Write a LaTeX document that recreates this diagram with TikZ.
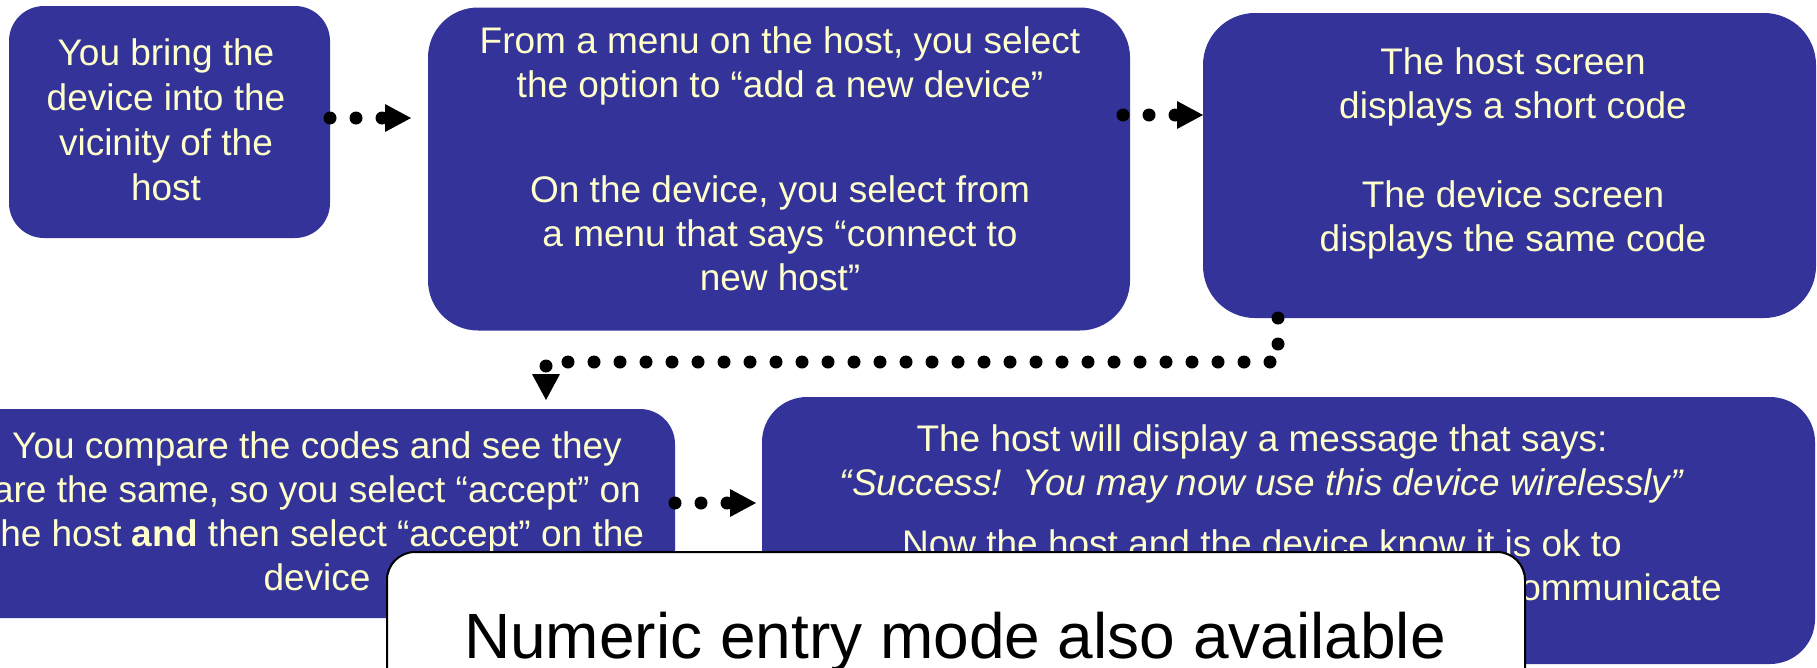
\documentclass[tikz,border=0pt]{standalone}
\usepackage{fontspec}
\setmainfont{Liberation Sans}
\usetikzlibrary{arrows.meta}
\definecolor{boxblue}{HTML}{333399}
\definecolor{cream}{HTML}{FFFFCC}

\tikzset{
  stepbox/.style={fill=boxblue, draw=none, inner sep=0pt, outer sep=0pt},
  steptext/.style={text=cream, anchor=base, inner sep=0pt,
                   font=\fontsize{37}{44}\selectfont},
  conn/.style={line width=13pt, line cap=round, dash pattern=on 0pt off 26pt,
               -{Triangle[length=26pt,width=28pt,line width=0pt]}},
  notebox/.style={draw=black, line width=2pt, fill=white, inner sep=0pt,
                  rounded corners=28pt},
}

\begin{document}
\begin{tikzpicture}[x=1pt,y=-1pt]
\useasboundingbox (0,0) rectangle (1817,667);
\clip (0,0) rectangle (1817,667);

% step boxes
\node[stepbox, rounded corners=35pt, minimum width=321pt, minimum height=232pt] (b1) at (169.5,122) {};
\node[stepbox, rounded corners=50pt, minimum width=702pt, minimum height=323pt] (b2) at (779,169) {};
\node[stepbox, rounded corners=52pt, minimum width=613pt, minimum height=305pt] (b3) at (1509.5,165.5) {};
\node[stepbox, rounded corners=35pt, minimum width=715pt, minimum height=209pt] (b4) at (317.5,513.5) {};
\node[stepbox, rounded corners=45pt, minimum width=1053pt, minimum height=267pt] (b5) at (1288.5,530.5) {};

% step texts
\node[steptext] (t1) at (166,65) {\begin{tabular}[t]{@{}c@{}}You bring the\\[1pt]device into the\\[1pt]vicinity of the\\[1pt]host\end{tabular}};
\node[steptext] (t2) at (780,53) {\begin{tabular}[t]{@{}c@{}}From a menu on the host, you select\\the option to “add a new device”\\[61pt]On the device, you select from\\a menu that says “connect to\\new host”\end{tabular}};
\node[steptext] (t3) at (1513,74) {\begin{tabular}[t]{@{}c@{}}The host screen\\displays a short code\\[45pt]The device screen\\displays the same code\end{tabular}};
\node[steptext] (t4) at (317,458) {\begin{tabular}[t]{@{}c@{}}You compare the codes and see they\\are the same, so you select “accept” on\\the host \textbf{and} then select “accept” on the\\device\end{tabular}};
\node[steptext] (t5) at (1262,451) {\begin{tabular}[t]{@{}c@{}}The host will display a message that says:\\\textit{“Success!\ \ You may now use this device wirelessly”}\\[17pt]Now the host and the device know it is ok to\end{tabular}};
\node[steptext, anchor=base east] (t5b) at (1722,600) {communicate};

% dotted connectors
\coordinate (r1) at (0,118);
\coordinate (r2) at (0,115);
\coordinate (r4) at (0,503);
\coordinate (k1) at (1278,362);
\coordinate (k2) at (546,362);
\draw[conn, shorten >=17pt] (b1.east |- r1) -- (b2.west |- r1);
\draw[conn] ([xshift=-7pt]b2.east |- r2) -- (b3.west |- r2);
\draw[conn, shorten >=9pt] (b3.south -| k1) -- (k1) -- (k2) -- (b4.north -| k2);
\draw[conn, shorten >=6pt] (b4.east |- r4) -- (b5.west |- r4);

% note box in front
\node[notebox, minimum width=1138pt, minimum height=168pt] (wb) at (956,636) {};
\node[anchor=base, inner sep=0pt, font=\fontsize{64}{70}\selectfont] (num) at (955,658) {Numeric entry mode also available};
\end{tikzpicture}
\end{document}
